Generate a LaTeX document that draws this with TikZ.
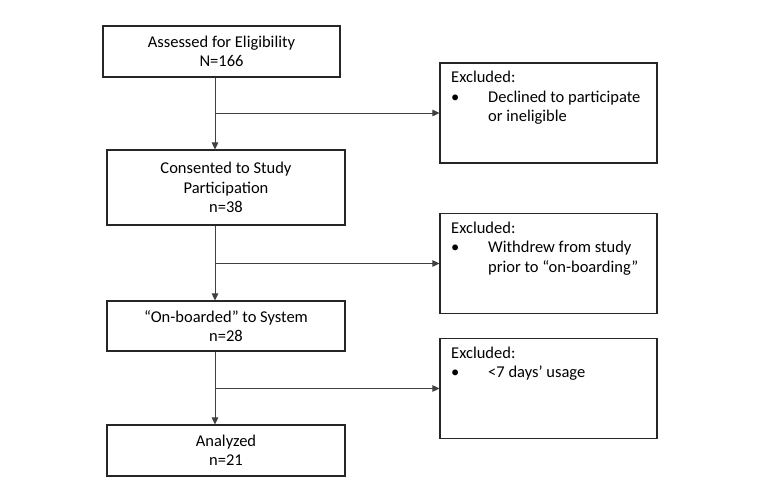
\documentclass[tikz,border=0pt]{standalone}
\usepackage{fontspec}
\setmainfont{Carlito}
\usetikzlibrary{arrows.meta,calc}
\tikzset{
  mainbox/.style={draw=black!85, line width=1.1pt, minimum width=238pt, align=center, inner sep=0pt, font=\fontsize{16.5}{19.5}\selectfont},
  exbox/.style={draw=black!85, line width=1.1pt, minimum width=217pt, minimum height=100pt, inner sep=0pt},
  extext/.style={anchor=base west, align=left, inner sep=0pt, font=\fontsize{16.5}{19.5}\selectfont},
  conn/.style={draw=black!75, line width=0.9pt},
  arr/.style={conn, -{Triangle[length=7pt,width=6.5pt]}}
}
\newcommand{\bul}{\makebox[37pt][l]{\textbullet}}
\begin{document}
\begin{tikzpicture}[x=1pt,y=-1pt]
\useasboundingbox (0,0) rectangle (766,500);
\node[mainbox, minimum width=237pt, minimum height=51pt] (b1) at (221.5,51.5) {Assessed for Eligibility\\N=166};
\node[mainbox, minimum height=75pt] (b2) at (226,187.5) {Consented to Study\\Participation\\n=38};
\node[mainbox, minimum height=50pt] (b3) at (226,326) {“On-boarded” to System\\n=28};
\node[mainbox, minimum height=51pt] (b4) at (226,450.5) {Analyzed\\n=21};
\node[exbox] (e1) at (548.5,113) {};
\node[exbox] (e2) at (548.5,263.5) {};
\node[exbox] (e3) at (548.5,388.5) {};
% base anchor of a multi-line node is the baseline of its last line
\node[extext] (t1) at (451,122) {Excluded:\\\bul Declined to participate\\\hspace*{37pt}or ineligible};
\node[extext] (t2) at (451,272) {Excluded:\\\bul Withdrew from study\\\hspace*{37pt}prior to “on-boarding”};
\node[extext] (t3) at (451,377.5) {Excluded:\\\bul <7 days’ usage};
\coordinate (tx) at (215,0);
\draw[arr] (b1.south -| tx) -- (b2.north -| tx);
\draw[arr] (b2.south -| tx) -- (b3.north -| tx);
\draw[arr] (b3.south -| tx) -- (b4.north -| tx);
\draw[arr] (tx |- e1.west) -- (e1.west);
\draw[arr] (tx |- e2.west) -- (e2.west);
\draw[arr] (tx |- e3.west) -- (e3.west);
\end{tikzpicture}
\end{document}
